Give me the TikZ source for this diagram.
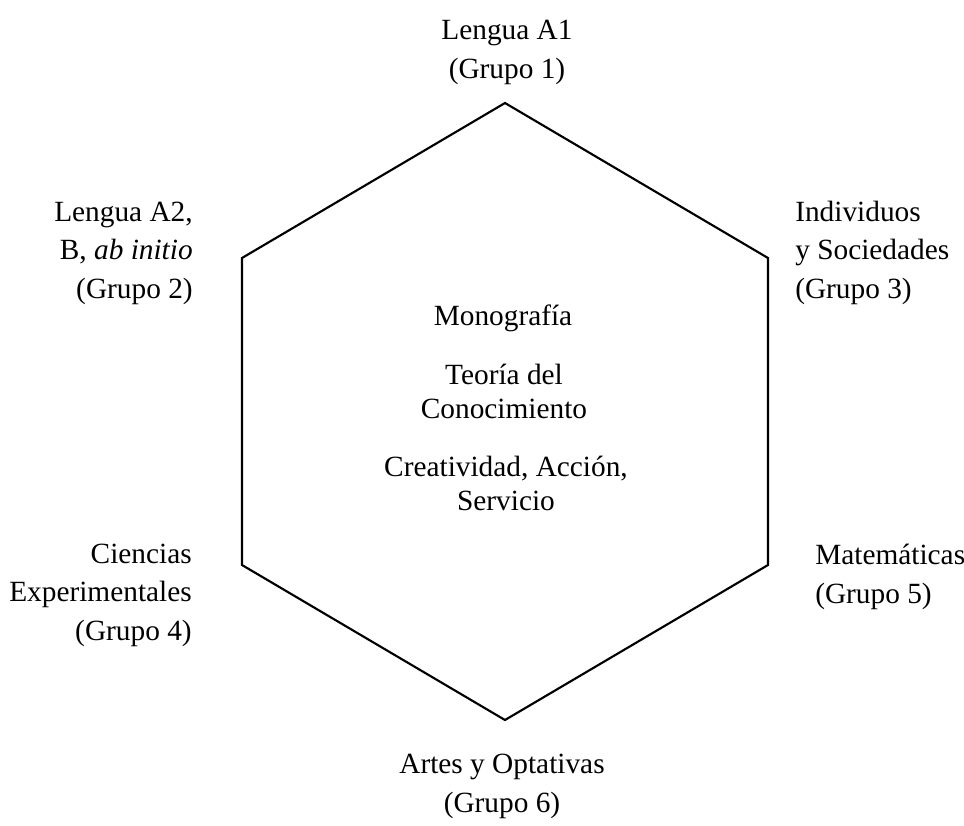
\documentclass[tikz,border=0pt]{standalone}
\usepackage{fontspec}
\setmainfont{Liberation Serif}

\begin{document}
\begin{tikzpicture}[x=0.75pt, y=-0.75pt, font=\fontsize{22}{28.6}\selectfont,
	grupo/.style={inner sep=0pt, anchor=base, align=center},
	centro/.style={grupo, font=\fontsize{22}{24.8}\selectfont}]
\useasboundingbox (0,0) rectangle (964,825);
% the hexagon
\coordinate (top) at (505,103);
\coordinate (ur) at (768,258);
\coordinate (lr) at (768,565);
\coordinate (bot) at (505,720);
\coordinate (ll) at (242,565);
\coordinate (ul) at (242,258);
\draw[line width=1.6pt, line join=miter] (top) -- (ur) -- (lr) -- (bot) -- (ll) -- (ul) -- cycle;
\node[grupo] (g1) at (507,78) {Lengua A1\\ (Grupo 1)};
\node[grupo, anchor=base east, align=right] (g2) at (193,298) {Lengua A2,\\ B, \textit{ab initio}\\ (Grupo 2)};
\node[grupo, anchor=base west, align=left] (g3) at (795,298) {Individuos\\ y Sociedades\\ (Grupo 3)};
\node[grupo, anchor=base east, align=right] (g4) at (192,640) {Ciencias\\ Experimentales\\ (Grupo 4)};
\node[grupo, anchor=base west, align=left] (g5) at (815,603) {Matemáticas\\ (Grupo 5)};
\node[grupo] (g6) at (502,812) {Artes y Optativas\\ (Grupo 6)};
\node[centro] (mono) at (503,325) {Monografía};
\node[centro] (tok) at (504,418) {Teoría del\\ Conocimiento};
\node[centro] (cas) at (506,510) {Creatividad, Acción,\\ Servicio};
\end{tikzpicture}
\end{document}
